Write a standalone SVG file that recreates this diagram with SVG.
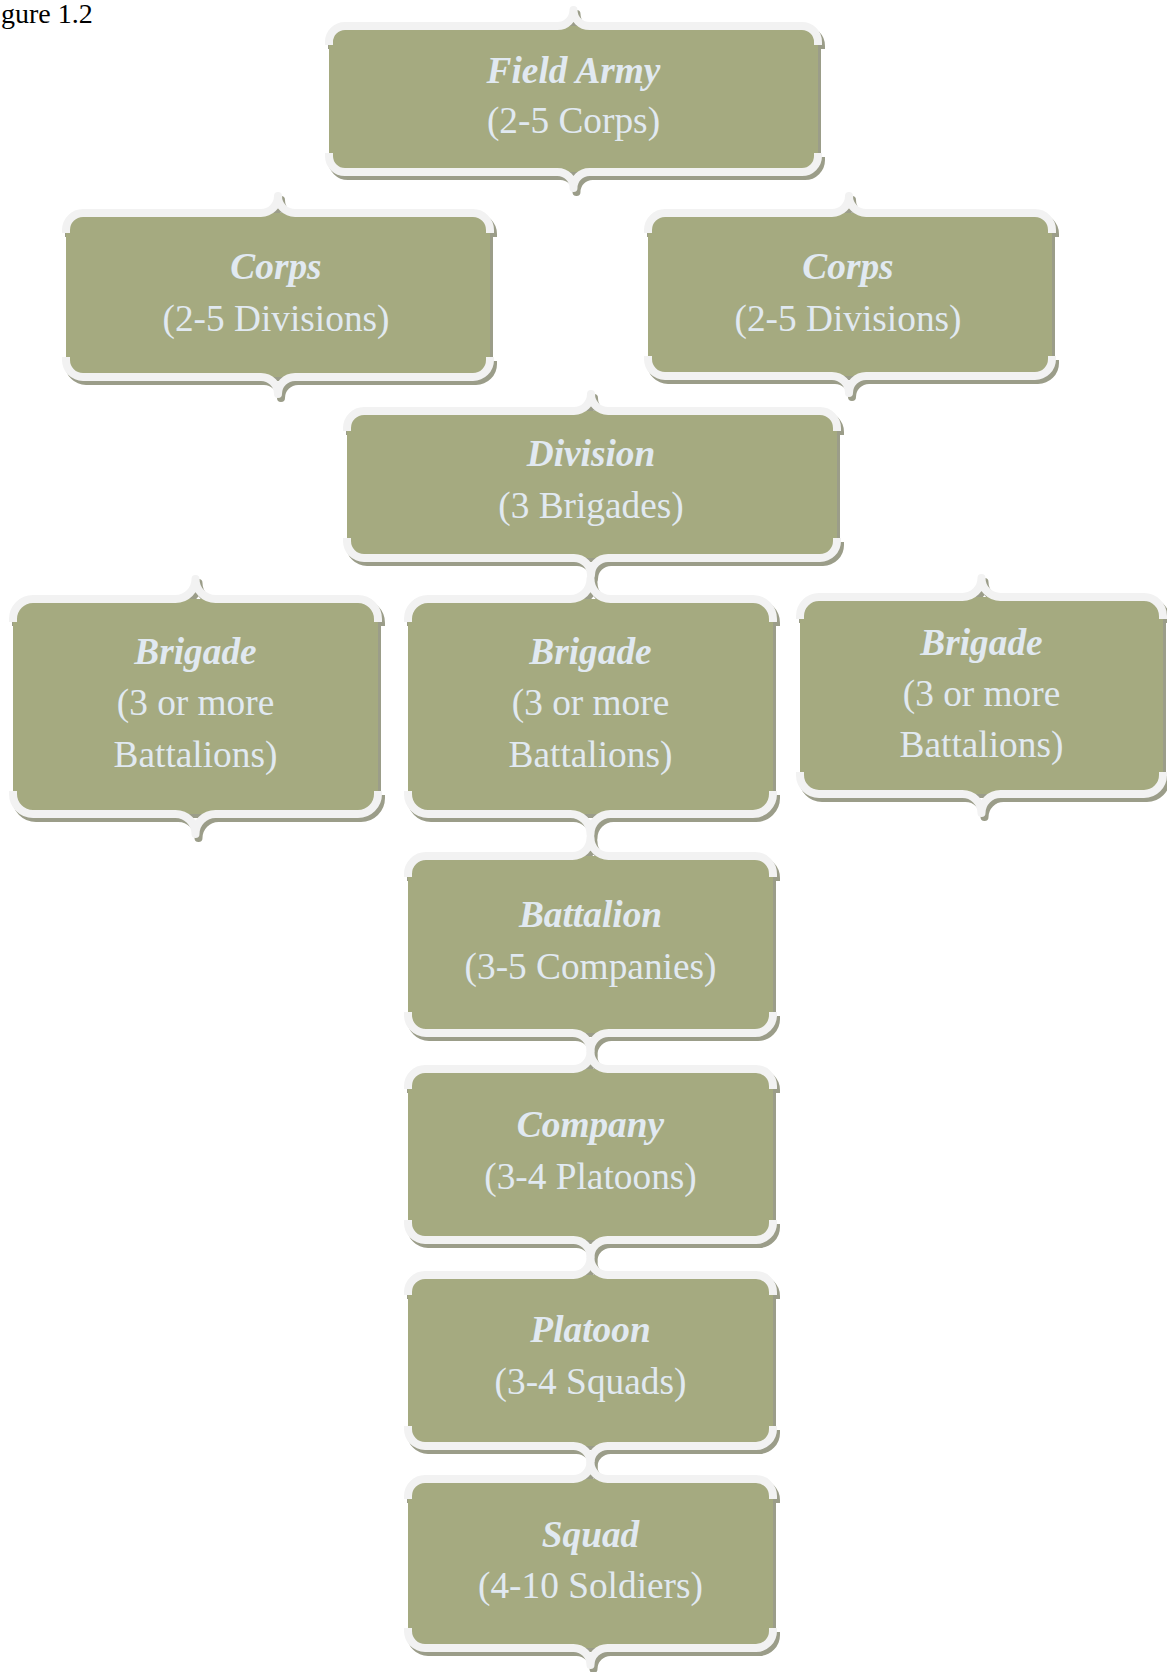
<svg xmlns="http://www.w3.org/2000/svg" xmlns:xlink="http://www.w3.org/1999/xlink" width="1167" height="1672" viewBox="0 0 1167 1672">
<style>
.sh{fill:#9b9d89;stroke:#9b9d89}
.mn{fill:#a5aa80;stroke:#f2f2f2}
.b{fill:none;stroke-width:8;stroke-linejoin:round;stroke-linecap:butt}
.r{stroke:none}
.t1{font-family:"Liberation Serif","Times New Roman",serif;font-style:italic;font-weight:bold;font-size:37.33px;fill:#e1e9f1;text-anchor:middle}
.t2{font-family:"Liberation Serif","Times New Roman",serif;font-size:37.33px;fill:#e1e9f1;text-anchor:middle}
.cap{font-family:"Liberation Serif","Times New Roman",serif;font-size:28px;fill:#000}
</style>
<defs>
<g id="s1"><rect class="r" x="329" y="26" width="489" height="146" rx="16"/><path class="b" d="M329 45 L329 42 A16 16 0 0 1 345 26 L557.5 26 A16 16 0 0 0 573.5 10 A16 16 0 0 0 589.5 26 L802 26 A16 16 0 0 1 818 42 L818 45"/><path class="b" d="M329 153 L329 156 A16 16 0 0 0 345 172 L557.5 172 A16 16 0 0 1 573.5 188 A16 16 0 0 1 589.5 172 L802 172 A16 16 0 0 0 818 156 L818 153"/></g>
<g id="s2"><rect class="r" x="66" y="213" width="424" height="164" rx="17"/><path class="b" d="M66 233 L66 230 A17 17 0 0 1 83 213 L261 213 A17 17 0 0 0 278 196 A17 17 0 0 0 295 213 L473 213 A17 17 0 0 1 490 230 L490 233"/><path class="b" d="M66 357 L66 360 A17 17 0 0 0 83 377 L261 377 A17 17 0 0 1 278 394 A17 17 0 0 1 295 377 L473 377 A17 17 0 0 0 490 360 L490 357"/></g>
<g id="s3"><rect class="r" x="648" y="213" width="404" height="163" rx="17"/><path class="b" d="M648 233 L648 230 A17 17 0 0 1 665 213 L832 213 A17 17 0 0 0 849 196 A17 17 0 0 0 866 213 L1035 213 A17 17 0 0 1 1052 230 L1052 233"/><path class="b" d="M648 356 L648 359 A17 17 0 0 0 665 376 L832 376 A17 17 0 0 1 849 393 A17 17 0 0 1 866 376 L1035 376 A17 17 0 0 0 1052 359 L1052 356"/></g>
<g id="s4"><rect class="r" x="347" y="411" width="490" height="147" rx="17"/><path class="b" d="M347 431 L347 428 A17 17 0 0 1 364 411 L574 411 A17 17 0 0 0 591 394 A17 17 0 0 0 608 411 L820 411 A17 17 0 0 1 837 428 L837 431"/><path class="b" d="M347 538 L347 541 A17 17 0 0 0 364 558 L574 558 A17 17 0 0 1 591 575 A17 17 0 0 1 608 558 L820 558 A17 17 0 0 0 837 541 L837 538"/></g>
<g id="s5"><rect class="r" x="13" y="599" width="365" height="215" rx="20"/><path class="b" d="M13 622 L13 619 A20 20 0 0 1 33 599 L175.5 599 A20 20 0 0 0 195.5 579 A20 20 0 0 0 215.5 599 L358 599 A20 20 0 0 1 378 619 L378 622"/><path class="b" d="M13 791 L13 794 A20 20 0 0 0 33 814 L175.5 814 A20 20 0 0 1 195.5 834 A20 20 0 0 1 215.5 814 L358 814 A20 20 0 0 0 378 794 L378 791"/></g>
<g id="s6"><rect class="r" x="408" y="599" width="365" height="215" rx="20"/><path class="b" d="M408 622 L408 619 A20 20 0 0 1 428 599 L570.5 599 A20 20 0 0 0 590.5 579 A20 20 0 0 0 610.5 599 L753 599 A20 20 0 0 1 773 619 L773 622"/><path class="b" d="M408 791 L408 794 A20 20 0 0 0 428 814 L570.5 814 A20 20 0 0 1 590.5 834 A20 20 0 0 1 610.5 814 L753 814 A20 20 0 0 0 773 794 L773 791"/></g>
<g id="s7"><rect class="r" x="800" y="597" width="363" height="197" rx="19"/><path class="b" d="M800 619 L800 616 A19 19 0 0 1 819 597 L962.5 597 A19 19 0 0 0 981.5 578 A19 19 0 0 0 1000.5 597 L1144 597 A19 19 0 0 1 1163 616 L1163 619"/><path class="b" d="M800 772 L800 775 A19 19 0 0 0 819 794 L962.5 794 A19 19 0 0 1 981.5 813 A19 19 0 0 1 1000.5 794 L1144 794 A19 19 0 0 0 1163 775 L1163 772"/></g>
<g id="s8"><rect class="r" x="408" y="856" width="365" height="177" rx="18"/><path class="b" d="M408 877 L408 874 A18 18 0 0 1 426 856 L572.5 856 A18 18 0 0 0 590.5 838 A18 18 0 0 0 608.5 856 L755 856 A18 18 0 0 1 773 874 L773 877"/><path class="b" d="M408 1012 L408 1015 A18 18 0 0 0 426 1033 L572.5 1033 A18 18 0 0 1 590.5 1051 A18 18 0 0 1 608.5 1033 L755 1033 A18 18 0 0 0 773 1015 L773 1012"/></g>
<g id="s9"><rect class="r" x="408" y="1069" width="365" height="171" rx="17"/><path class="b" d="M408 1089 L408 1086 A17 17 0 0 1 425 1069 L573.5 1069 A17 17 0 0 0 590.5 1052 A17 17 0 0 0 607.5 1069 L756 1069 A17 17 0 0 1 773 1086 L773 1089"/><path class="b" d="M408 1220 L408 1223 A17 17 0 0 0 425 1240 L573.5 1240 A17 17 0 0 1 590.5 1257 A17 17 0 0 1 607.5 1240 L756 1240 A17 17 0 0 0 773 1223 L773 1220"/></g>
<g id="s10"><rect class="r" x="408" y="1275" width="365" height="171" rx="17"/><path class="b" d="M408 1295 L408 1292 A17 17 0 0 1 425 1275 L573.5 1275 A17 17 0 0 0 590.5 1258 A17 17 0 0 0 607.5 1275 L756 1275 A17 17 0 0 1 773 1292 L773 1295"/><path class="b" d="M408 1426 L408 1429 A17 17 0 0 0 425 1446 L573.5 1446 A17 17 0 0 1 590.5 1463 A17 17 0 0 1 607.5 1446 L756 1446 A17 17 0 0 0 773 1429 L773 1426"/></g>
<g id="s11"><rect class="r" x="408" y="1479" width="365" height="169" rx="17"/><path class="b" d="M408 1499 L408 1496 A17 17 0 0 1 425 1479 L573.5 1479 A17 17 0 0 0 590.5 1462 A17 17 0 0 0 607.5 1479 L756 1479 A17 17 0 0 1 773 1496 L773 1499"/><path class="b" d="M408 1628 L408 1631 A17 17 0 0 0 425 1648 L573.5 1648 A17 17 0 0 1 590.5 1665 A17 17 0 0 1 607.5 1648 L756 1648 A17 17 0 0 0 773 1631 L773 1628"/></g>
</defs>
<rect width="1167" height="1672" fill="#fff"/>
<text class="cap" x="1" y="23">gure 1.2</text>
<g id="connectors"/>
<g id="field-army"><use xlink:href="#s1" class="sh" transform="translate(3,4)"/><use xlink:href="#s1" class="mn"/><text class="t1" x="573.5" y="83">Field Army</text><text class="t2" x="573.5" y="133">(2-5 Corps)</text></g>
<g id="corps-left"><use xlink:href="#s2" class="sh" transform="translate(3,4)"/><use xlink:href="#s2" class="mn"/><text class="t1" x="276" y="279">Corps</text><text class="t2" x="276" y="331">(2-5 Divisions)</text></g>
<g id="corps-right"><use xlink:href="#s3" class="sh" transform="translate(3,4)"/><use xlink:href="#s3" class="mn"/><text class="t1" x="848" y="279">Corps</text><text class="t2" x="848" y="331">(2-5 Divisions)</text></g>
<g id="division"><use xlink:href="#s4" class="sh" transform="translate(3,4)"/><use xlink:href="#s4" class="mn"/><text class="t1" x="591" y="466">Division</text><text class="t2" x="591" y="518">(3 Brigades)</text></g>
<g id="brigade-left"><use xlink:href="#s5" class="sh" transform="translate(3,4)"/><use xlink:href="#s5" class="mn"/><text class="t1" x="195.5" y="664">Brigade</text><text class="t2" x="195.5" y="715">(3 or more</text><text class="t2" x="195.5" y="767">Battalions)</text></g>
<g id="brigade-middle"><use xlink:href="#s6" class="sh" transform="translate(3,4)"/><use xlink:href="#s6" class="mn"/><text class="t1" x="590.5" y="664">Brigade</text><text class="t2" x="590.5" y="715">(3 or more</text><text class="t2" x="590.5" y="767">Battalions)</text></g>
<g id="brigade-right"><use xlink:href="#s7" class="sh" transform="translate(3,4)"/><use xlink:href="#s7" class="mn"/><text class="t1" x="981.5" y="655">Brigade</text><text class="t2" x="981.5" y="706">(3 or more</text><text class="t2" x="981.5" y="757">Battalions)</text></g>
<g id="battalion"><use xlink:href="#s8" class="sh" transform="translate(3,4)"/><use xlink:href="#s8" class="mn"/><text class="t1" x="590.5" y="927">Battalion</text><text class="t2" x="590.5" y="979">(3-5 Companies)</text></g>
<g id="company"><use xlink:href="#s9" class="sh" transform="translate(3,4)"/><use xlink:href="#s9" class="mn"/><text class="t1" x="590.5" y="1137">Company</text><text class="t2" x="590.5" y="1189">(3-4 Platoons)</text></g>
<g id="platoon"><use xlink:href="#s10" class="sh" transform="translate(3,4)"/><use xlink:href="#s10" class="mn"/><text class="t1" x="590.5" y="1342">Platoon</text><text class="t2" x="590.5" y="1394">(3-4 Squads)</text></g>
<g id="squad"><use xlink:href="#s11" class="sh" transform="translate(3,4)"/><use xlink:href="#s11" class="mn"/><text class="t1" x="590.5" y="1547">Squad</text><text class="t2" x="590.5" y="1598">(4-10 Soldiers)</text></g>
</svg>
